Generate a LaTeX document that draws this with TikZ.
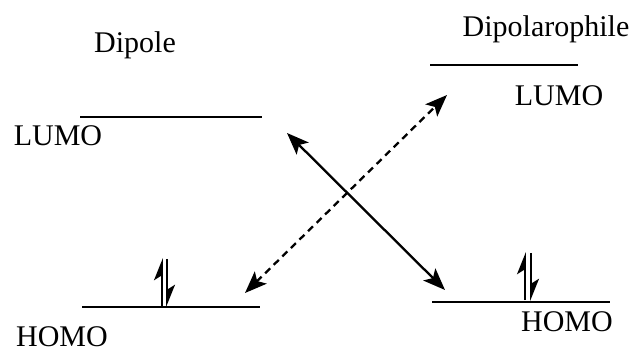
\documentclass[tikz,border=0pt]{standalone}
\usepackage{fontspec}
\setmainfont{Liberation Serif}
\usetikzlibrary{arrows.meta}
\begin{document}
\begin{tikzpicture}[x=1pt,y=-1pt,
  lbl/.style={inner sep=0pt,font=\fontsize{30}{36}\selectfont},
  level/.style={line width=2pt},
  spin/.style={line width=1.8pt,-{Stealth[left,length=20pt,width=16pt,inset=5pt]}},
  trans/.style={line width=2.3pt,{Stealth[length=22pt,width=17pt,inset=5pt]}-{Stealth[length=22pt,width=17pt,inset=5pt]}},
  transd/.style={trans,dash pattern=on 7pt off 5pt}]
\useasboundingbox (0,0) rectangle (642,355);
% titles
\node[lbl] (dipole) at (135,45) {Dipole};
\node[lbl] (dipo) at (546,29) {Dipolarophile};
% levels
\coordinate (lL1) at (80,117); \coordinate (lL2) at (262,117);
\coordinate (lH1) at (82,307); \coordinate (lH2) at (260,307);
\coordinate (rL1) at (430,65); \coordinate (rL2) at (578,65);
\coordinate (rH1) at (432,302); \coordinate (rH2) at (610,302);
\draw[level] (lL1) -- (lL2);
\draw[level] (lH1) -- (lH2);
\draw[level] (rL1) -- (rL2);
\draw[level] (rH1) -- (rH2);
% labels
\node[lbl] (lumoL) at (58,136) {LUMO};
\node[lbl] (homoL) at (62,337) {HOMO};
\node[lbl] (lumoR) at (559,96) {LUMO};
\node[lbl] (homoR) at (567,322) {HOMO};
% spins
\coordinate (ls1) at (162,306); \coordinate (ls2) at (162,258);
\coordinate (ls3) at (167,259); \coordinate (ls4) at (167,307);
\draw[spin] (ls1) -- (ls2);
\draw[spin] (ls3) -- (ls4);
\coordinate (rs1) at (525,300); \coordinate (rs2) at (525,252);
\coordinate (rs3) at (531,253); \coordinate (rs4) at (531,301);
\draw[spin] (rs1) -- (rs2);
\draw[spin] (rs3) -- (rs4);
% transitions
\coordinate (s1) at (287,133); \coordinate (s2) at (445,290);
\coordinate (d1) at (447,95); \coordinate (d2) at (245,293);
\draw[trans] (s1) -- (s2);
\draw[transd] (d2) -- (d1);
\end{tikzpicture}
\end{document}
